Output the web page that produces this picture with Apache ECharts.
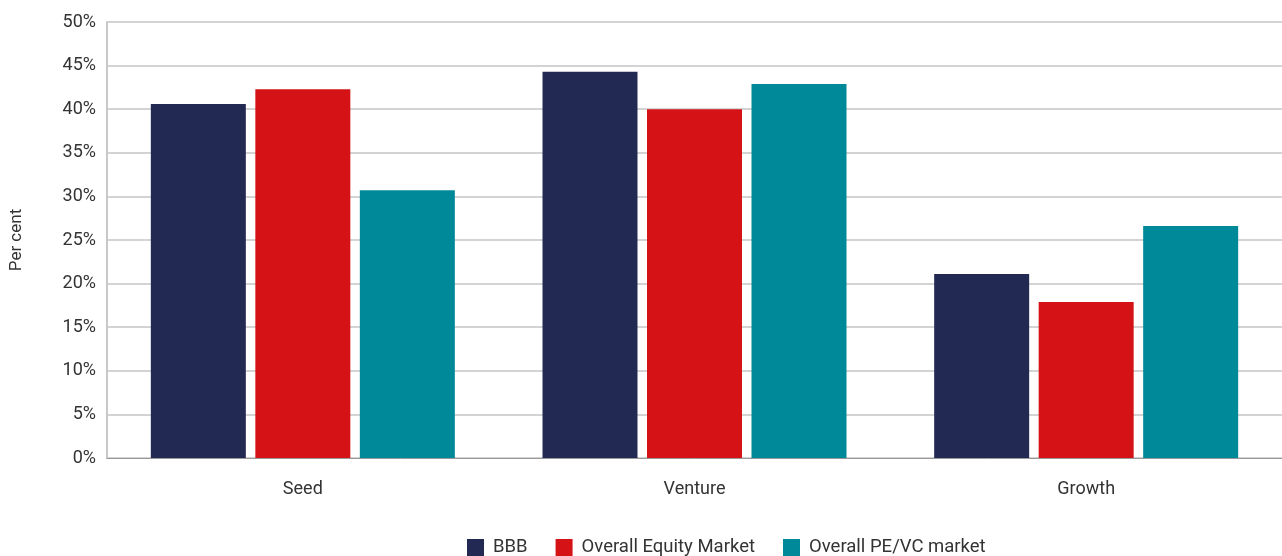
<!DOCTYPE html>
<html><head><meta charset="utf-8">
<script src="https://cdn.jsdelivr.net/npm/echarts@6/dist/echarts.min.js"></script>
<style>html,body{margin:0;padding:0;background:#fff}#c{width:1282px;height:556px}</style>
</head><body><div id="c"></div>
<script>
const categories = ['Seed', 'Venture', 'Growth'];
const bbb = [40.6, 44.3, 21.1];
const equity = [42.3, 40.0, 17.9];
const pevc = [30.7, 42.9, 26.6];
const seriesNames = ['BBB', 'Overall Equity Market', 'Overall PE/VC market'];
const colors = ['#222a54', '#d51317', '#008998'];

const chart = echarts.init(document.getElementById('c'));
const font = 'Roboto, "Noto Sans", sans-serif';
chart.setOption({
  animation: false,
  textStyle: {fontFamily: font},
  grid: {left: 103, right: 0, top: 22, bottom: 98, containLabel: false},
  legend: {
    left: 467, top: 538, itemWidth: 17, itemHeight: 17, itemGap: 28,
    icon: 'rect', padding: 0,
    textStyle: {fontSize: 18.5, color: '#333', fontFamily: font, padding: [0, 0, 0, 4]},
    data: seriesNames
  },
  xAxis: {
    type: 'category', data: categories,
    axisLine: {lineStyle: {color: '#999', width: 1}},
    axisTick: {show: false},
    axisLabel: {fontSize: 18, color: '#333', margin: 22}
  },
  yAxis: {
    type: 'value', min: 0, max: 50, interval: 5,
    name: 'Per cent', nameLocation: 'middle', nameGap: 82, nameRotate: 90,
    nameTextStyle: {fontSize: 17, color: '#333'},
    axisLine: {show: true, lineStyle: {color: '#c8c8c8', width: 2}},
    axisLabel: {formatter: '{value}%', fontSize: 18, color: '#333', margin: 11},
    splitLine: {lineStyle: {color: '#c4c4c4', width: 1.5}}
  },
  series: [
    {name: seriesNames[0], type: 'bar', data: bbb, itemStyle: {color: colors[0]}, barWidth: 95, barGap: '10%'},
    {name: seriesNames[1], type: 'bar', data: equity, itemStyle: {color: colors[1]}, barWidth: 95, barGap: '10%'},
    {name: seriesNames[2], type: 'bar', data: pevc, itemStyle: {color: colors[2]}, barWidth: 95, barGap: '10%'}
  ]
});
</script></body></html>
